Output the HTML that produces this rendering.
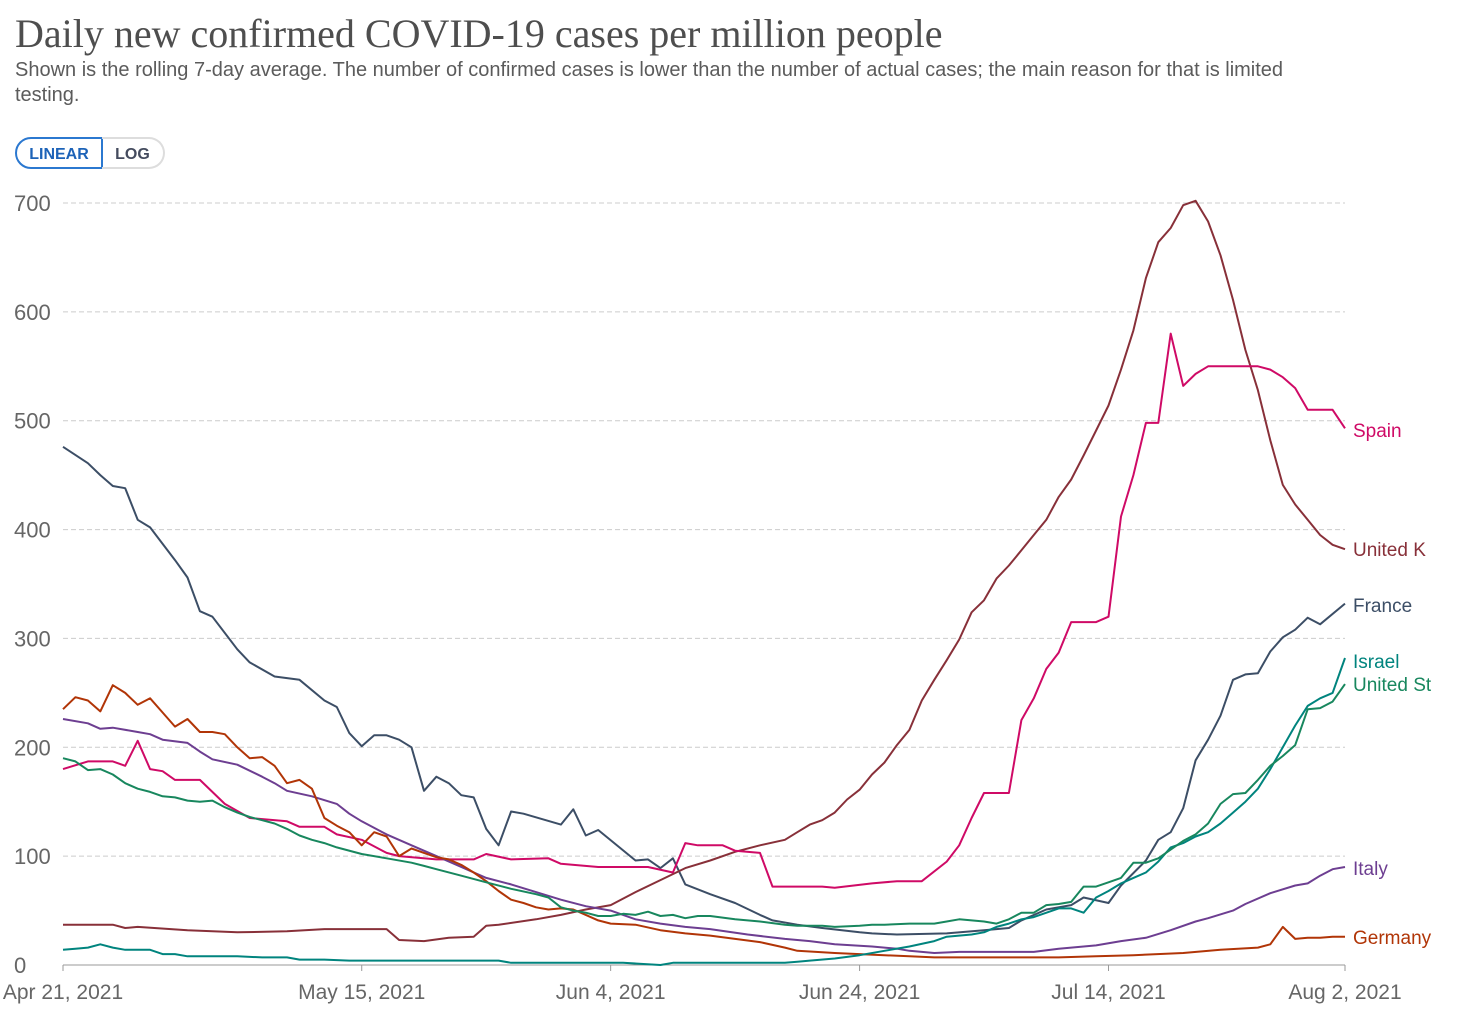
<!DOCTYPE html>
<html><head><meta charset="utf-8"><style>
body{margin:0;background:#fff;width:1472px;height:1016px;overflow:hidden;font-family:"Liberation Sans",sans-serif;position:relative}
#title{position:absolute;left:15px;top:10px;font-family:"Liberation Serif",serif;font-size:40px;color:#4e4e4e;white-space:nowrap}
#sub{position:absolute;left:15px;top:58px;width:1310px;font-size:20px;line-height:25px;color:#5b5b5b}
.btn{position:absolute;top:137px;height:32px;line-height:32px;font-size:16px;font-weight:bold;text-align:center;box-sizing:border-box}
#lin{left:15px;width:88px;border:2px solid #2b78d0;border-radius:16px 0 0 16px;color:#1d63b8}
#log{left:102px;width:63px;border:2px solid #ddd;border-left:none;border-radius:0 16px 16px 0;color:#444b5e}
svg{position:absolute;left:0;top:0}
</style></head><body>
<div id="title">Daily new confirmed COVID-19 cases per million people</div>
<div id="sub">Shown is the rolling 7-day average. The number of confirmed cases is lower than the number of actual cases; the main reason for that is limited testing.</div>
<div class="btn" id="lin">LINEAR</div>
<div class="btn" id="log">LOG</div>
<svg id="chart" width="1472" height="1016"></svg>
<script>
const yTicks=[0,100,200,300,400,500,600,700];
const xTickDays=[0,24,44,64,84,103];
const xTickLabels=["Apr 21, 2021","May 15, 2021","Jun 4, 2021","Jun 24, 2021","Jul 14, 2021","Aug 2, 2021"];
const seriesNames=["France","United Kingdom","Spain","Italy","Germany","Israel","United States"];
const labelText=["France","United K","Spain","Italy","Germany","Israel","United St"];
const franceDays=[0,2,3,4,5,6,7,9,10,11,12,14,15,17,19,21,22,23,24,25,26,27,28,29,30,31,32,33,34,35,36,37,40,41,42,43,46,47,48,49,50,52,54,56,57,59,61,64,65,67,71,74,76,77,79,81,82,84,85,87,88,89,90,91,92,93,94,95,96,97,98,99,100,101,103];
const franceVals=[476,461,450,440,438,409,402,372,356,325,320,290,278,265,262,243,237,213,201,211,211,207,200,160,173,167,156,154,125,110,141,139,129,143,119,124,96,97,89,98,74,65,57,46,41,37,34,30,29,28,29,32,34,41,51,55,62,57,73,96,115,122,144,188,207,229,262,267,268,288,301,308,319,313,332];
const ukDays=[0,4,5,6,10,14,18,21,26,27,29,31,33,34,35,38,40,42,44,46,48,50,52,54,56,58,59,60,61,62,63,64,65,66,67,68,69,70,71,72,73,74,75,76,77,78,79,80,81,82,83,84,85,86,87,88,89,90,91,92,93,94,95,96,97,98,99,100,101,102,103];
const ukVals=[37,37,34,35,32,30,31,33,33,23,22,25,26,36,37,42,46,51,55,67,78,89,96,104,110,115,122,129,133,140,152,161,175,186,202,216,243,262,280,299,324,335,355,367,381,395,409,430,446,468,491,514,547,583,631,664,677,698,702,683,652,611,565,528,482,441,423,409,395,386,382];
const spainDays=[0,2,4,5,6,7,8,9,11,13,15,18,19,21,22,24,26,27,30,33,34,36,39,40,43,47,49,50,51,53,54,56,57,61,62,65,67,69,71,72,73,74,76,77,78,79,80,81,83,84,85,86,87,88,89,90,91,92,96,97,98,99,100,102,103];
const spainVals=[180,187,187,183,206,180,178,170,170,148,135,132,127,127,120,115,103,100,97,97,102,97,98,93,90,90,85,112,110,110,105,103,72,72,71,75,77,77,95,110,135,158,158,225,245,272,287,315,315,320,412,450,498,498,580,532,543,550,550,547,540,530,510,510,493];
const italyDays=[0,2,3,4,6,7,8,10,11,12,14,16,17,18,20,22,23,24,26,28,30,32,34,36,38,40,42,44,46,48,50,52,55,58,60,62,65,67,68,70,72,78,80,83,85,87,89,91,92,94,95,97,99,100,101,102,103];
const italyVals=[226,222,217,218,214,212,207,204,196,189,184,173,167,160,155,148,139,132,120,110,100,90,80,74,67,60,54,50,42,38,35,33,28,24,22,19,17,15,13,11,12,12,15,18,22,25,32,40,43,50,56,66,73,75,82,88,90];
const germanyDays=[0,1,2,3,4,5,6,7,8,9,10,11,12,13,14,15,16,17,18,19,20,21,22,23,24,25,26,27,28,29,30,31,32,33,34,35,36,37,38,39,40,41,42,43,44,46,48,50,52,54,56,58,59,62,64,66,68,70,80,83,86,90,93,96,97,98,99,100,101,102,103];
const germanyVals=[235,246,243,233,257,250,239,245,232,219,226,214,214,212,200,190,191,183,167,170,162,135,128,122,110,122,118,100,107,103,99,97,92,85,77,68,60,57,53,51,52,51,46,41,38,37,32,29,27,24,21,16,13,11,10,9,8,7,7,8,9,11,14,16,19,35,24,25,25,26,26];
const israelDays=[0,1,2,3,4,5,7,8,9,10,14,16,18,19,21,23,35,36,45,48,49,58,59,60,62,64,66,68,70,71,73,74,75,76,77,78,80,81,82,83,84,85,86,87,88,89,90,91,92,93,94,95,96,97,98,99,100,101,102,103];
const israelVals=[14,15,16,19,16,14,14,10,10,8,8,7,7,5,5,4,4,2,2,0,2,2,3,4,6,9,13,17,22,26,28,30,35,38,42,44,52,52,48,62,68,75,80,85,95,108,112,118,122,130,140,150,162,180,200,220,238,245,250,282];
const usDays=[0,1,2,3,4,5,6,7,8,9,10,11,12,13,14,15,16,17,18,19,20,21,22,24,26,28,29,30,32,34,36,38,39,40,41,42,43,44,45,46,47,48,49,50,51,52,54,56,58,59,61,62,64,65,66,68,70,71,72,74,75,76,77,78,79,80,81,82,83,84,85,86,87,88,89,90,91,92,93,94,95,96,97,98,99,100,101,102,103];
const usVals=[190,187,179,180,175,167,162,159,155,154,151,150,151,145,140,136,133,130,125,119,115,112,108,102,98,94,91,88,82,76,70,65,62,53,50,48,45,45,47,46,49,45,46,43,45,45,42,40,37,36,36,35,36,37,37,38,38,40,42,40,38,42,48,48,55,56,58,72,72,76,80,94,94,98,106,114,120,130,148,157,158,170,183,192,202,235,236,242,258];
const colors=["#3c4e66","#883039","#cf0a66","#6d3e91","#b13507","#00847e","#18875e"];
const labelY=[605,549,430,868,937,661,684];
const allDays=[franceDays,ukDays,spainDays,italyDays,germanyDays,israelDays,usDays];
const allVals=[franceVals,ukVals,spainVals,italyVals,germanyVals,israelVals,usVals];
const NS="http://www.w3.org/2000/svg",svg=document.getElementById('chart');
const X=d=>63+d*(1345-63)/103, Y=v=>965-v*(965-203)/700;
function mk(t,a){const e=document.createElementNS(NS,t);for(const k in a)e.setAttribute(k,a[k]);svg.appendChild(e);return e;}
yTicks.forEach(v=>{
 if(v>0){const l=mk('line',{x1:63,x2:1345,y1:Y(v),y2:Y(v),stroke:'#ccc','stroke-dasharray':'5,3','stroke-width':1});
 
 }
 const t=mk('text',{x:14,y:Y(v)+8,'font-size':22,fill:'#666'});t.textContent=v;
 
 
});
const ax=mk('line',{x1:63,x2:1345,y1:965,y2:965,stroke:'#999'});


xTickDays.forEach((d,i)=>{
 const tk=mk('line',{x1:X(d),x2:X(d),y1:965,y2:971,stroke:'#999'});
 
 
 const t=mk('text',{x:X(d),y:999,'font-size':21,fill:'#666','text-anchor':'middle'});t.textContent=xTickLabels[i];
 
 
});
seriesNames.forEach((n,i)=>{
 const pts=allDays[i].map((d,j)=>X(d).toFixed(1)+','+Y(allVals[i][j]).toFixed(1)).join(' ');
 const p=mk('polyline',{points:pts,fill:'none',stroke:colors[i],'stroke-width':2,'stroke-linejoin':'round'});
 
 
 const t=mk('text',{x:1353,y:labelY[i]+7,'font-size':19,fill:colors[i]});t.textContent=labelText[i];
 
 
});
</script>
</body></html>
